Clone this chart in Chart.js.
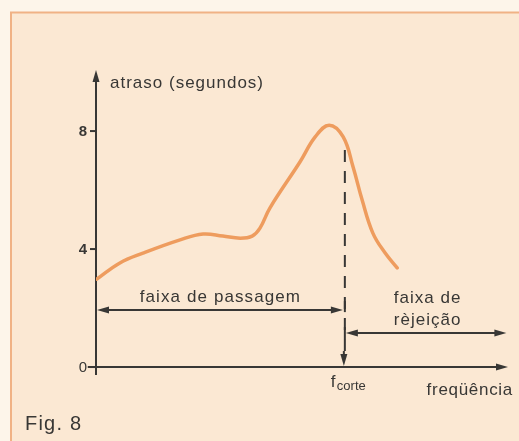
<!DOCTYPE html>
<html lang="pt">
<head>
  <meta charset="UTF-8" />
  <title>Fig. 8 - atraso x frequencia</title>
  <script src="https://cdn.jsdelivr.net/npm/chart.js"></script>
  <style>
    html, body { margin: 0; padding: 0; background: #fdf5ea; }
    #wrap { width: 519px; height: 441px; }
  </style>
</head>
<body>
<div id="wrap"><canvas id="atrasoChart" width="519" height="441"></canvas></div>

<script>
  // curva de atraso (frequencia em unidades arbitrarias 0..100)
  const frequencia = [0.2, 5.8, 11.4, 20.4, 26.0, 30.8, 35.0, 37.9, 39.8, 42.2, 49.5, 53.2, 56.6, 60.0, 62.4, 64.6, 67.2, 70.1, 73.1];
  const atraso     = [2.98, 3.53, 3.86, 4.31, 4.51, 4.44, 4.37, 4.44, 4.71, 5.39, 6.95, 7.80, 8.20, 7.80, 6.78, 5.66, 4.54, 3.88, 3.36];

  const yTicks = [0, 4, 8];
  const fCorte = 60.4;
  const yPassagem = 1.93;   // altura da seta "faixa de passagem"
  const yRejeicao = 1.15;   // altura da seta "faixa de rejeicao"
  const topoTracejado = 7.36;

  const INK = '#383735';
  const FONT = '"Liberation Sans", Arial, sans-serif';

  function arrowHead(ctx, x, y, dir) {
    const len = 12, half = 3.5;
    ctx.beginPath();
    if (dir === 'up') {
      ctx.moveTo(x, y); ctx.lineTo(x - half, y + len); ctx.lineTo(x + half, y + len);
    } else if (dir === 'down') {
      ctx.moveTo(x, y); ctx.lineTo(x - half, y - len); ctx.lineTo(x + half, y - len);
    } else if (dir === 'left') {
      ctx.moveTo(x, y); ctx.lineTo(x + len, y - half); ctx.lineTo(x + len, y + half);
    } else {
      ctx.moveTo(x, y); ctx.lineTo(x - len, y - half); ctx.lineTo(x - len, y + half);
    }
    ctx.closePath();
    ctx.fill();
  }

  function line(ctx, x1, y1, x2, y2) {
    ctx.beginPath();
    ctx.moveTo(x1, y1);
    ctx.lineTo(x2, y2);
    ctx.stroke();
  }

  function text(ctx, str, x, y, size, align, spacing, weight) {
    ctx.font = (weight || 'normal') + ' ' + size + 'px ' + FONT;
    ctx.letterSpacing = (spacing || 0) + 'px';
    ctx.textAlign = align;
    ctx.textBaseline = 'alphabetic';
    ctx.fillText(str, x, y);
    ctx.letterSpacing = '0px';
  }

  const figura = {
    id: 'figura',
    beforeDraw(chart) {
      const ctx = chart.ctx;
      ctx.save();
      ctx.fillStyle = '#fdf5ea';
      ctx.fillRect(0, 0, chart.width, chart.height);
      ctx.fillStyle = '#fbe8d3';
      ctx.fillRect(12, 13, chart.width - 12, chart.height - 13);
      ctx.strokeStyle = '#f0b285';
      ctx.lineWidth = 2;
      ctx.beginPath();
      ctx.moveTo(11, chart.height);
      ctx.lineTo(11, 12.5);
      ctx.lineTo(chart.width, 12.5);
      ctx.stroke();
      ctx.restore();
    },
    beforeDatasetsDraw(chart) {
      const ctx = chart.ctx;
      const xs = chart.scales.x, ys = chart.scales.y;
      const x0 = xs.getPixelForValue(0);
      const y0 = ys.getPixelForValue(0);
      ctx.save();
      ctx.strokeStyle = INK;
      ctx.fillStyle = INK;
      ctx.lineWidth = 2;

      // eixo vertical
      const yTop = ys.getPixelForValue(ys.max);
      line(ctx, x0, ys.getPixelForValue(ys.min), x0, yTop + 8);
      arrowHead(ctx, x0, yTop, 'up');

      // eixo horizontal
      const xEnd = xs.getPixelForValue(xs.max);
      line(ctx, xs.getPixelForValue(-2), y0, xEnd - 8, y0);
      arrowHead(ctx, xEnd, y0, 'right');

      // marcas e rotulos do eixo y
      yTicks.forEach(v => {
        const py = ys.getPixelForValue(v);
        line(ctx, x0 - 6, py, x0, py);
        text(ctx, String(v), x0 - 9, py + 5, 15, 'right', 0, v === 0 ? 'normal' : 'bold');
      });
      ctx.restore();
    },
    afterDatasetsDraw(chart) {
      const ctx = chart.ctx;
      const xs = chart.scales.x, ys = chart.scales.y;
      const x0 = xs.getPixelForValue(0);
      const y0 = ys.getPixelForValue(0);
      const xc = xs.getPixelForValue(fCorte);
      const xEnd = xs.getPixelForValue(99.6);
      ctx.save();
      ctx.strokeStyle = INK;
      ctx.fillStyle = INK;
      ctx.lineWidth = 2;

      // linha tracejada em f corte
      ctx.setLineDash([12, 9]);
      line(ctx, xc, ys.getPixelForValue(topoTracejado), xc, y0 - 12);
      ctx.setLineDash([]);
      arrowHead(ctx, xc - 1, y0 - 1, 'down');
      line(ctx, xc - 1, y0 - 16, xc - 1, y0 - 8);

      // seta faixa de passagem
      const yp = ys.getPixelForValue(yPassagem);
      line(ctx, x0 + 6, yp, xc - 10, yp);
      arrowHead(ctx, x0 + 1, yp, 'left');
      arrowHead(ctx, xc - 2, yp, 'right');
      line(ctx, xc, yp - 9, xc, yp + 2);

      // seta faixa de rejeicao
      const yr = ys.getPixelForValue(yRejeicao);
      line(ctx, xc + 6, yr, xEnd - 8, yr);
      arrowHead(ctx, xc + 1, yr, 'left');
      arrowHead(ctx, xEnd, yr, 'right');
      line(ctx, xc, yr - 6, xc, yr + 6);

      // textos
      text(ctx, 'atraso (segundos)', x0 + 14, ys.getPixelForValue(ys.max) + 18, 17, 'left', 1);
      text(ctx, 'faixa de passagem', (x0 + xc) / 2, yp - 8, 17, 'center', 1.1);
      text(ctx, 'faixa de', (xc + xEnd) / 2 + 2, yp - 7, 17, 'center', 1);
      text(ctx, 'rèjeição', (xc + xEnd) / 2 + 2, yr - 8, 17, 'center', 1);
      text(ctx, 'f', xc - 14, y0 + 20, 17, 'left', 0);
      text(ctx, 'corte', xc - 8, y0 + 23, 13, 'left', 0);
      text(ctx, 'freqüência', xs.getPixelForValue(xs.max) + 5, y0 + 28, 17, 'right', 0.7);
      text(ctx, 'Fig. 8', 25, 430, 20, 'left', 1.2);
      ctx.restore();
    }
  };

  const pontos = frequencia.map((f, i) => ({ x: f, y: atraso[i] }));

  new Chart(document.getElementById('atrasoChart'), {
    type: 'line',
    data: {
      datasets: [{
        data: pontos,
        borderColor: '#ee9c5e',
        borderWidth: 3.5,
        pointRadius: 0,
        fill: false,
        tension: 0.4,
        borderCapStyle: 'round',
        borderJoinStyle: 'round'
      }]
    },
    options: {
      responsive: false,
      animation: false,
      devicePixelRatio: 1,
      layout: { padding: { left: 96, right: 11, top: 70, bottom: 66 } },
      scales: {
        x: { type: 'linear', min: 0, max: 100, display: false },
        y: { type: 'linear', min: -0.27, max: 10.07, display: false }
      },
      plugins: {
        legend: { display: false },
        tooltip: { enabled: false }
      }
    },
    plugins: [figura]
  });
</script>
</body>
</html>
